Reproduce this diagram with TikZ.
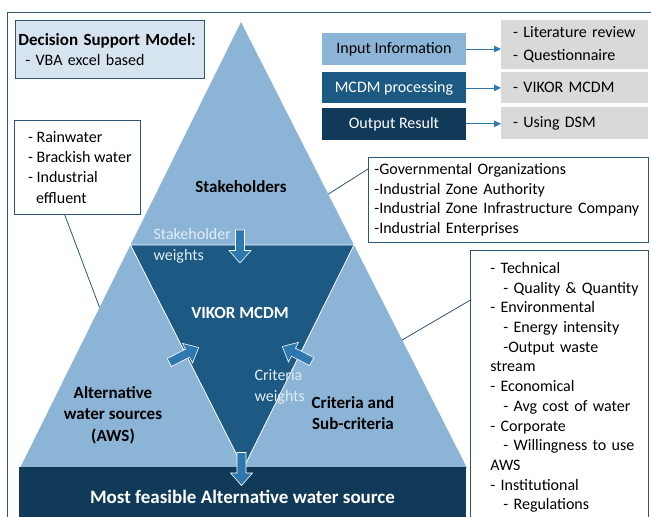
\documentclass[tikz,border=0pt]{standalone}
\usepackage{fontspec}
\setmainfont{Carlito}
\usetikzlibrary{arrows.meta,positioning,calc}
\definecolor{lb}{RGB}{139,180,214}
\definecolor{db}{RGB}{28,90,132}
\definecolor{nb}{RGB}{16,58,88}
\definecolor{ab}{RGB}{46,120,176}
\definecolor{gb}{RGB}{217,217,217}
\definecolor{pb}{RGB}{214,228,240}
\definecolor{ln}{RGB}{47,84,118}
\definecolor{wl}{RGB}{226,236,246}
\tikzset{box/.style={draw=ln,line width=.8pt,fill=white,align=left,anchor=north west,inner xsep=6pt,inner ysep=6pt},
 lg/.style={minimum width=144pt,minimum height=32pt,inner sep=0pt},
 gy/.style={fill=gb,anchor=north west,minimum width=147pt,text width=123pt,inner xsep=12pt,align=left},
 blk/.pic={\draw[fill=ab,draw=white,line width=.6pt] (-16.5,-4.5)--(4,-4.5)--(4,-11)--(16.5,0)--(4,11)--(4,4.5)--(-16.5,4.5)--cycle;},
 bar/.style={fill=nb,minimum width=447pt,minimum height=50pt,inner sep=0pt,text height=22pt,text depth=0pt,text=white,font=\fontsize{19}{22}\selectfont\bfseries},
 wire/.style={draw=ln,line width=.8pt},arr/.style={-{Triangle[length=2.4mm,width=2.2mm]},draw=ab,line width=.8pt},
 lbl/.style={font=\fontsize{17}{21.5}\selectfont\bfseries,align=center},
 wt/.style={text=wl,align=left,anchor=west,font=\fontsize{16}{20.5}\selectfont},
 every node/.style={font=\fontsize{16}{19.7}\selectfont}}
\begin{document}
\begin{tikzpicture}[x=1pt,y=-1pt]
\useasboundingbox (0,0) rectangle (651,517);
\draw[ln,line width=.8pt] (7,517) |- (651,12);
% pyramid and the inner VIKOR triangle
\coordinate (top) at (241,22);
\coordinate (bl) at (20,468);
\coordinate (br) at (467,468);
\fill[lb] (top)--(bl)--(br)--cycle;
\draw[white,line width=.8pt,fill=db] ($(top)!.5!(bl)$)--($(top)!.5!(br)$)--($(bl)!.5!(br)$)--cycle;
\node[bar] (res) at (242.5,492) {Most feasible Alternative water source};
\coordinate (sl) at ($(top)!.64!(bl)$);
\coordinate (sr) at ($(top)!.386!(br)$);
\coordinate (cr) at ($(top)!.713!(br)$);
% labels on the pyramid
\node[lbl] (stkh) at (241,187) {Stakeholders};
\node[lbl,text=white] (vik) at (240,313) {VIKOR MCDM};
\node[lbl] (aws) at (113,415) {Alternative\\water sources\\(AWS)};
\node[lbl] (crt) at (353,413) {Criteria and\\Sub-criteria};
\node[wt] (sw) at (150,246) {Stakeholder\\weights};
\node[wt] (cw) at (251,387) {Criteria\\weights};
\pic[rotate=-90] at (240,246.5) {blk};
\pic[rotate=27] at (184,355) {blk};
\pic[rotate=153] at (297,354) {blk};
\pic[rotate=-90] at (241.5,469) {blk};
% side boxes
\node[box,fill=pb,text width=183pt,inner xsep=3pt,minimum height=58pt] (dsm) at (15,20) {{\fontsize{17}{22}\selectfont\bfseries Decision Support Model:}\\\hspace*{7pt}- VBA excel based};
\node[box,inner xsep=8pt,minimum width=126pt,minimum height=94pt,font=\fontsize{16}{20.3}\selectfont] (src) at (14,120) {\hspace*{5pt}- Rainwater\\\hspace*{5pt}- Brackish water\\\hspace*{5pt}- Industrial\\\hspace*{13pt}effluent};
\node[box,text width=276pt,inner xsep=2pt,minimum height=80pt] (stk) at (368,157) {\hspace*{4pt}-Governmental Organizations\\\hspace*{4pt}-Industrial Zone Authority\\\hspace*{4pt}-Industrial Zone Infrastructure Company\\\hspace*{4pt}-Industrial Enterprises};
\node[box,text width=166pt,inner xsep=6pt,minimum height=264pt] (crit) at (470,250) {\rule{0pt}{17pt}\hspace*{14pt}- Technical\\\hspace*{27pt}- Quality \& Quantity\\\hspace*{14pt}- Environmental\\\hspace*{27pt}- Energy intensity\\\hspace*{27pt}-Output waste\\\hspace*{14pt}stream\\\hspace*{14pt}- Economical\\\hspace*{27pt}- Avg cost of water\\\hspace*{14pt}- Corporate\\\hspace*{27pt}- Willingness to use\\\hspace*{14pt}AWS\\\hspace*{14pt}- Institutional\\\hspace*{27pt}- Regulations};
\draw[wire] ($(src.south west)!.4!(src.south east)$) -- (sl);
\draw[wire] ($(stk.north west)!.14!(stk.south west)$) -- (sr);
\draw[wire] ($(crit.north west)!.187!(crit.south west)$) -- (cr);
% legend
\node[lg,fill=lb] (inp) at (394,49) {Input Information};
\node[lg,fill=db,text=white,minimum height=31pt,below=7pt of inp] (proc) {MCDM processing};
\node[lg,fill=nb,text=white,below=4pt of proc] (outp) {Output Result};
\node[gy,minimum height=49pt,font=\fontsize{16}{23}\selectfont] (lit) at (501,20) {- Literature review\\- Questionnaire};
\node[gy,minimum height=31pt] (vk) at (501,72) {- VIKOR MCDM};
\node[gy,minimum height=32pt] (dsmu) at (501,107) {- Using DSM};
\foreach \u/\v in {inp/lit,proc/vk,outp/dsmu}{\draw[arr] (\u.east) -- (\u.east -| \v.west);}
\end{tikzpicture}
\end{document}
